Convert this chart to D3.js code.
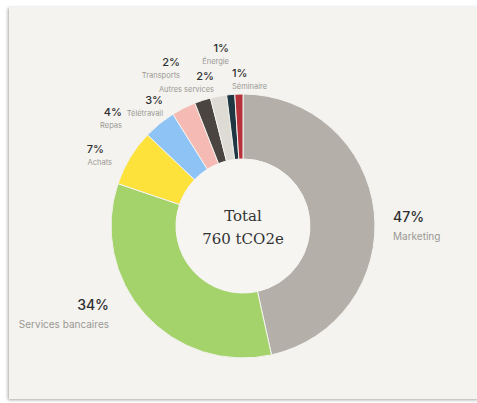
<!DOCTYPE html>
<html>
<head>
<meta charset="utf-8">
<script src="https://cdn.jsdelivr.net/npm/d3@7"></script>
<style>
  body { margin:0; background:#fff; }
  #card { position:absolute; left:9px; top:7px; width:470px; height:392px;
          background:#f4f3ef; box-shadow:-1px 1px 3px rgba(0,0,0,0.35); }
  svg { position:absolute; left:0; top:0; }
</style>
</head>
<body>
<div id="card"></div>
<svg id="chart" width="477" height="403"></svg>
<script>
// data
var categories = ["Marketing","Services bancaires","Achats","Repas","Télétravail","Transports","Autres services","Énergie","Séminaire"];
var values = [47,34,7,4,3,2,2,1,1];
var colors = ["#b4b0a9","#a4d36b","#fde23b","#8ec3f6","#f6bab5","#4a4541","#dddbd4","#1e3743","#b5323a"];
var totalLabel = ["Total","760 tCO2e"];

// label layout: x, y of the percent line, anchor, big?, dx of the name line
var labelLayout = [
  [393,222,"start",true,0],
  [109,310,"end",true,0],
  [104,153,"end",false,8],
  [122,116,"end",false,0],
  [163,104,"end",false,0],
  [180,66,"end",false,0],
  [214,80,"end",false,0],
  [229,52,"end",false,0],
  [232,77,"start",false,0]
];

var cx=243, cy=226, R=132, r=67;
var svg = d3.select("#chart");
var g = svg.append("g").attr("transform","translate("+cx+","+cy+")");

var pie = d3.pie().sort(null).value(function(d){return d.v;});
var arc = d3.arc().innerRadius(r).outerRadius(R);
var data = categories.map(function(c,i){ return {c:c, v:values[i], col:colors[i]}; });

g.selectAll("path")
  .data(pie(data))
  .enter()
  .append("path")
  .attr("d", arc)
  .attr("fill", function(d){ return d.data.col; })
  .attr("stroke","#f4f3ef")
  .attr("stroke-width",1);

g.append("circle").attr("r", r).attr("fill","#f6f5f2");

g.selectAll("text.total")
  .data(totalLabel)
  .enter()
  .append("text")
  .attr("class","total")
  .attr("text-anchor","middle")
  .attr("y", function(d,i){ return -5 + i*23; })
  .attr("font-family","'DejaVu Serif', serif")
  .attr("font-size", 15)
  .attr("fill","#333")
  .text(function(d){ return d; });

var labels = svg.selectAll("g.lab")
  .data(data)
  .enter()
  .append("g")
  .attr("class","lab")
  .attr("transform", function(d,i){ return "translate("+labelLayout[i][0]+","+labelLayout[i][1]+")"; });

labels.append("text")
  .attr("text-anchor", function(d,i){ return labelLayout[i][2]; })
  .attr("font-family","Inter, sans-serif")
  .attr("font-weight", 500)
  .attr("font-size", function(d,i){ return labelLayout[i][3] ? 14 : 11; })
  .attr("fill","#2e2e2e")
  .text(function(d){ return d.v + "%"; });

labels.append("text")
  .attr("text-anchor", function(d,i){ return labelLayout[i][2]; })
  .attr("x", function(d,i){ return labelLayout[i][4]; })
  .attr("y", function(d,i){ return labelLayout[i][3] ? 18 : 12; })
  .attr("font-family","Inter, sans-serif")
  .attr("font-size", function(d,i){ return labelLayout[i][3] ? 10 : 7.5; })
  .attr("fill","#9a9894")
  .text(function(d){ return d.c; });
</script>
</body>
</html>
